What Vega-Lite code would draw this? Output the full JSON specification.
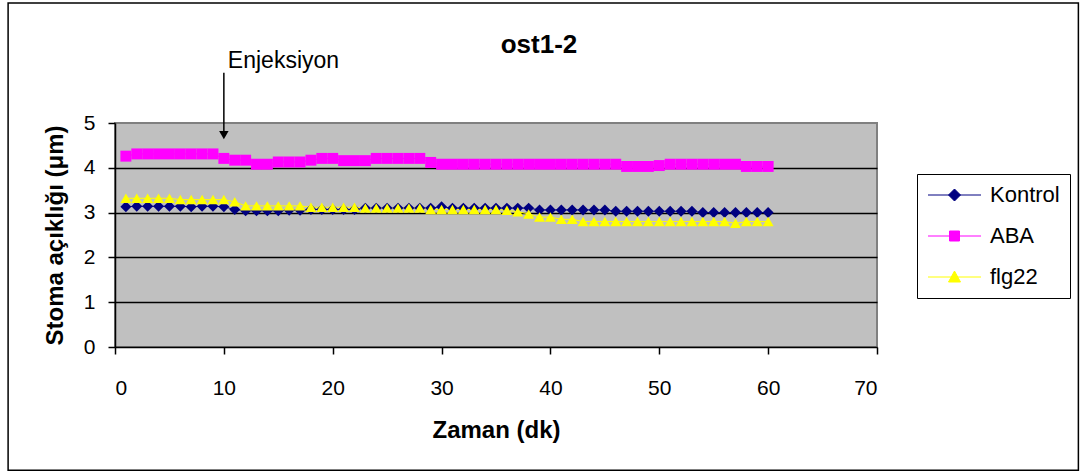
{
  "$schema": "https://vega.github.io/schema/vega-lite/v6.json",
  "width": 762,
  "height": 224,
  "autosize": {"type": "none"},
  "padding": {"left": 115, "top": 123, "right": 209, "bottom": 128},
  "background": "white",
  "title": {"text": "ost1-2", "font": "Liberation Sans", "fontSize": 26, "fontWeight": "bold", "color": "black", "anchor": "middle", "frame": "group", "dx": 43, "baseline": "alphabetic", "offset": -77},
  "config": {
    "view": {"fill": "#C0C0C0", "stroke": "#808080", "strokeWidth": 2},
    "axis": {"labelFont": "Liberation Sans", "labelFontSize": 21, "labelColor": "black", "titleFont": "Liberation Sans", "titleFontSize": 24, "titleFontWeight": "bold", "titleColor": "black", "domainColor": "black", "domainWidth": 1.5, "tickColor": "black", "tickWidth": 1.5, "tickSize": 7}
  },
  "data": {"values": [
    {"t":1,"s":"Kontrol","v":3.13},{"t":2,"s":"Kontrol","v":3.14},{"t":3,"s":"Kontrol","v":3.14},{"t":4,"s":"Kontrol","v":3.14},{"t":5,"s":"Kontrol","v":3.14},{"t":6,"s":"Kontrol","v":3.14},{"t":7,"s":"Kontrol","v":3.13},{"t":8,"s":"Kontrol","v":3.14},{"t":9,"s":"Kontrol","v":3.14},{"t":10,"s":"Kontrol","v":3.13},
    {"t":11,"s":"Kontrol","v":3.07},{"t":12,"s":"Kontrol","v":3.04},{"t":13,"s":"Kontrol","v":3.04},{"t":14,"s":"Kontrol","v":3.04},{"t":15,"s":"Kontrol","v":3.04},{"t":16,"s":"Kontrol","v":3.05},{"t":17,"s":"Kontrol","v":3.05},{"t":18,"s":"Kontrol","v":3.07},{"t":19,"s":"Kontrol","v":3.07},{"t":20,"s":"Kontrol","v":3.07},
    {"t":21,"s":"Kontrol","v":3.07},{"t":22,"s":"Kontrol","v":3.07},{"t":23,"s":"Kontrol","v":3.1},{"t":24,"s":"Kontrol","v":3.1},{"t":25,"s":"Kontrol","v":3.1},{"t":26,"s":"Kontrol","v":3.1},{"t":27,"s":"Kontrol","v":3.1},{"t":28,"s":"Kontrol","v":3.1},{"t":29,"s":"Kontrol","v":3.1},{"t":30,"s":"Kontrol","v":3.13},
    {"t":31,"s":"Kontrol","v":3.1},{"t":32,"s":"Kontrol","v":3.1},{"t":33,"s":"Kontrol","v":3.1},{"t":34,"s":"Kontrol","v":3.1},{"t":35,"s":"Kontrol","v":3.1},{"t":36,"s":"Kontrol","v":3.1},{"t":37,"s":"Kontrol","v":3.1},{"t":38,"s":"Kontrol","v":3.1},{"t":39,"s":"Kontrol","v":3.06},{"t":40,"s":"Kontrol","v":3.06},
    {"t":41,"s":"Kontrol","v":3.06},{"t":42,"s":"Kontrol","v":3.06},{"t":43,"s":"Kontrol","v":3.06},{"t":44,"s":"Kontrol","v":3.06},{"t":45,"s":"Kontrol","v":3.06},{"t":46,"s":"Kontrol","v":3.03},{"t":47,"s":"Kontrol","v":3.03},{"t":48,"s":"Kontrol","v":3.03},{"t":49,"s":"Kontrol","v":3.03},{"t":50,"s":"Kontrol","v":3.03},
    {"t":51,"s":"Kontrol","v":3.03},{"t":52,"s":"Kontrol","v":3.03},{"t":53,"s":"Kontrol","v":3.03},{"t":54,"s":"Kontrol","v":3.0},{"t":55,"s":"Kontrol","v":3.0},{"t":56,"s":"Kontrol","v":3.0},{"t":57,"s":"Kontrol","v":3.0},{"t":58,"s":"Kontrol","v":3.0},{"t":59,"s":"Kontrol","v":3.0},{"t":60,"s":"Kontrol","v":3.0},
    {"t":1,"s":"ABA","v":4.26},{"t":2,"s":"ABA","v":4.31},{"t":3,"s":"ABA","v":4.31},{"t":4,"s":"ABA","v":4.31},{"t":5,"s":"ABA","v":4.31},{"t":6,"s":"ABA","v":4.31},{"t":7,"s":"ABA","v":4.31},{"t":8,"s":"ABA","v":4.31},{"t":9,"s":"ABA","v":4.31},{"t":10,"s":"ABA","v":4.21},
    {"t":11,"s":"ABA","v":4.17},{"t":12,"s":"ABA","v":4.17},{"t":13,"s":"ABA","v":4.08},{"t":14,"s":"ABA","v":4.08},{"t":15,"s":"ABA","v":4.13},{"t":16,"s":"ABA","v":4.13},{"t":17,"s":"ABA","v":4.13},{"t":18,"s":"ABA","v":4.17},{"t":19,"s":"ABA","v":4.21},{"t":20,"s":"ABA","v":4.21},
    {"t":21,"s":"ABA","v":4.16},{"t":22,"s":"ABA","v":4.16},{"t":23,"s":"ABA","v":4.16},{"t":24,"s":"ABA","v":4.21},{"t":25,"s":"ABA","v":4.21},{"t":26,"s":"ABA","v":4.21},{"t":27,"s":"ABA","v":4.21},{"t":28,"s":"ABA","v":4.21},{"t":29,"s":"ABA","v":4.12},{"t":30,"s":"ABA","v":4.08},
    {"t":31,"s":"ABA","v":4.08},{"t":32,"s":"ABA","v":4.08},{"t":33,"s":"ABA","v":4.08},{"t":34,"s":"ABA","v":4.08},{"t":35,"s":"ABA","v":4.08},{"t":36,"s":"ABA","v":4.08},{"t":37,"s":"ABA","v":4.08},{"t":38,"s":"ABA","v":4.08},{"t":39,"s":"ABA","v":4.08},{"t":40,"s":"ABA","v":4.08},
    {"t":41,"s":"ABA","v":4.08},{"t":42,"s":"ABA","v":4.08},{"t":43,"s":"ABA","v":4.08},{"t":44,"s":"ABA","v":4.08},{"t":45,"s":"ABA","v":4.08},{"t":46,"s":"ABA","v":4.08},{"t":47,"s":"ABA","v":4.03},{"t":48,"s":"ABA","v":4.03},{"t":49,"s":"ABA","v":4.03},{"t":50,"s":"ABA","v":4.05},
    {"t":51,"s":"ABA","v":4.08},{"t":52,"s":"ABA","v":4.08},{"t":53,"s":"ABA","v":4.08},{"t":54,"s":"ABA","v":4.08},{"t":55,"s":"ABA","v":4.08},{"t":56,"s":"ABA","v":4.08},{"t":57,"s":"ABA","v":4.08},{"t":58,"s":"ABA","v":4.03},{"t":59,"s":"ABA","v":4.03},{"t":60,"s":"ABA","v":4.03},
    {"t":1,"s":"flg22","v":3.32},{"t":2,"s":"flg22","v":3.32},{"t":3,"s":"flg22","v":3.32},{"t":4,"s":"flg22","v":3.32},{"t":5,"s":"flg22","v":3.32},{"t":6,"s":"flg22","v":3.29},{"t":7,"s":"flg22","v":3.29},{"t":8,"s":"flg22","v":3.29},{"t":9,"s":"flg22","v":3.29},{"t":10,"s":"flg22","v":3.29},
    {"t":11,"s":"flg22","v":3.24},{"t":12,"s":"flg22","v":3.15},{"t":13,"s":"flg22","v":3.15},{"t":14,"s":"flg22","v":3.15},{"t":15,"s":"flg22","v":3.15},{"t":16,"s":"flg22","v":3.15},{"t":17,"s":"flg22","v":3.15},{"t":18,"s":"flg22","v":3.12},{"t":19,"s":"flg22","v":3.12},{"t":20,"s":"flg22","v":3.12},
    {"t":21,"s":"flg22","v":3.12},{"t":22,"s":"flg22","v":3.12},{"t":23,"s":"flg22","v":3.1},{"t":24,"s":"flg22","v":3.1},{"t":25,"s":"flg22","v":3.1},{"t":26,"s":"flg22","v":3.1},{"t":27,"s":"flg22","v":3.1},{"t":28,"s":"flg22","v":3.1},{"t":29,"s":"flg22","v":3.07},{"t":30,"s":"flg22","v":3.07},
    {"t":31,"s":"flg22","v":3.07},{"t":32,"s":"flg22","v":3.07},{"t":33,"s":"flg22","v":3.07},{"t":34,"s":"flg22","v":3.07},{"t":35,"s":"flg22","v":3.07},{"t":36,"s":"flg22","v":3.05},{"t":37,"s":"flg22","v":3.02},{"t":38,"s":"flg22","v":2.97},{"t":39,"s":"flg22","v":2.9},{"t":40,"s":"flg22","v":2.9},
    {"t":41,"s":"flg22","v":2.85},{"t":42,"s":"flg22","v":2.85},{"t":43,"s":"flg22","v":2.8},{"t":44,"s":"flg22","v":2.8},{"t":45,"s":"flg22","v":2.8},{"t":46,"s":"flg22","v":2.8},{"t":47,"s":"flg22","v":2.8},{"t":48,"s":"flg22","v":2.8},{"t":49,"s":"flg22","v":2.8},{"t":50,"s":"flg22","v":2.8},
    {"t":51,"s":"flg22","v":2.8},{"t":52,"s":"flg22","v":2.8},{"t":53,"s":"flg22","v":2.8},{"t":54,"s":"flg22","v":2.8},{"t":55,"s":"flg22","v":2.8},{"t":56,"s":"flg22","v":2.8},{"t":57,"s":"flg22","v":2.76},{"t":58,"s":"flg22","v":2.8},{"t":59,"s":"flg22","v":2.8},{"t":60,"s":"flg22","v":2.8}
  ]},
  "encoding": {
    "x": {"field": "t", "type": "quantitative", "scale": {"domain": [0, 70], "nice": false}, "axis": {"title": "Zaman (dk)", "values": [0,10,20,30,40,50,60,70], "grid": false, "labelPadding": 23, "titlePadding": 20}},
    "y": {"field": "v", "type": "quantitative", "scale": {"domain": [0, 5], "nice": false}, "axis": {"title": "Stoma açıklığı (μm)", "values": [0,1,2,3,4,5], "grid": true, "gridColor": {"condition": {"test": "datum.value === 5 || datum.value === 0", "value": "transparent"}, "value": "black"}, "gridWidth": 1.5, "labelPadding": 13, "titlePadding": 16}}
  },
  "layer": [
    {
      "mark": {"type": "line", "strokeWidth": 1},
      "encoding": {
        "color": {"field": "s", "type": "nominal", "scale": {"domain": ["Kontrol", "ABA", "flg22"], "range": ["#000080", "#FF00FF", "#FFFF00"]},
          "legend": {"title": null, "orient": "none", "legendX": 802, "legendY": 51, "padding": 10, "strokeColor": "black", "fillColor": "white", "labelFont": "Liberation Sans", "labelFontSize": 22, "labelColor": "black", "symbolSize": 400, "labelOffset": 41, "rowPadding": 19,
            "encode": {"symbols": {"update": {
              "shape": {"signal": "datum.value === 'Kontrol' ? 'M-1,0H4.3M1.05,0L1.65,-0.6L2.25,0L1.65,0.6Z' : datum.value === 'ABA' ? 'M-1,0H4.3M1.15,-0.5H2.15V0.5H1.15Z' : 'M-1,0H4.3M1.65,-0.6L2.25,0.5H1.05Z'"},
              "fill": {"scale": "color", "field": "value"},
              "stroke": {"scale": "color", "field": "value"},
              "strokeWidth": {"value": 1},
              "opacity": {"value": 1}
            }}}
          }
        }
      }
    },
    {
      "mark": {"type": "point", "filled": true, "size": 120, "opacity": 1, "shape": {"expr": "datum.s === 'Kontrol' ? 'diamond' : datum.s === 'ABA' ? 'square' : 'triangle-up'"}},
      "encoding": {
        "color": {"field": "s", "type": "nominal", "legend": null}
      }
    },
    {
      "transform": [{"filter": "datum.t === 10 && datum.s === 'Kontrol'"}],
      "mark": {"type": "rule", "color": "black", "strokeWidth": 1.5, "clip": false},
      "encoding": {"y": {"datum": 6.12}, "y2": {"datum": 4.75}}
    },
    {
      "transform": [{"filter": "datum.t === 10 && datum.s === 'Kontrol'"}],
      "mark": {"type": "point", "shape": "triangle-down", "filled": true, "color": "black", "size": 90, "opacity": 1, "clip": false},
      "encoding": {"y": {"datum": 4.73}}
    },
    {
      "transform": [{"filter": "datum.t === 10 && datum.s === 'Kontrol'"}],
      "mark": {"type": "text", "text": "Enjeksiyon", "font": "Liberation Sans", "fontSize": 23, "color": "black", "align": "left", "baseline": "alphabetic", "dx": 4, "clip": false},
      "encoding": {"y": {"datum": 6.22}}
    },
    {
      "transform": [{"filter": "datum.t === 10 && datum.s === 'Kontrol'"}],
      "mark": {"type": "rect", "fill": "transparent", "stroke": "black", "strokeWidth": 1.5, "clip": false},
      "encoding": {"x": {"datum": -9.82}, "x2": {"datum": 88.5}, "y": {"datum": 7.68}, "y2": {"datum": -2.75}}
    }
  ]
}
